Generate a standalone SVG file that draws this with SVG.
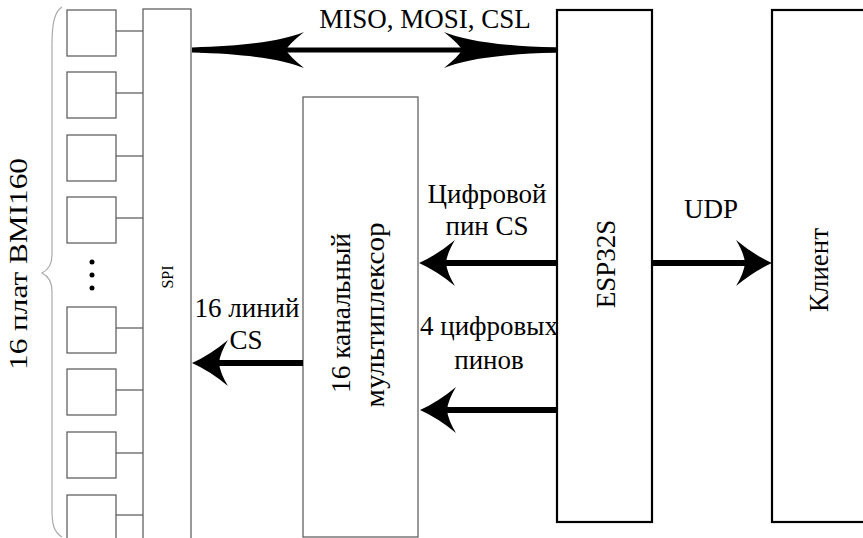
<svg xmlns="http://www.w3.org/2000/svg" width="863" height="538" viewBox="0 0 863 538">
<style>
.thin{fill:#fff;stroke:#555;stroke-width:1.2}
.bold{fill:#fff;stroke:#000;stroke-width:2.2}
.wire{stroke:#555;stroke-width:1.2}
text{font-family:'Liberation Serif','Tinos','Times New Roman','DejaVu Serif','Noto Serif',serif;fill:#000}
.lbl{font-size:27px;text-anchor:middle}
.conn{stroke:#000;fill:none}
.head{fill:#000;stroke:none}
</style>
<defs>
<path id="h" d="M0,0 Q18,-8 36,-23 Q28,-10 27,0 Q28,10 36,23 Q18,8 0,0 Z"/>
<path id="big" d="M0,-2.5 C58,-4 93,-10 112,-18 Q97,-6 94,0 Q97,6 112,18 C93,10 58,4 0,2.5 Z"/>
</defs>
<rect width="863" height="538" fill="#fff"/>

<g id="boards">
<path d="M62,7 C54,12 52,25 52,45 L52,255 C52,265 48,270 42,273 C48,276 52,281 52,291 L52,510 C52,525 54,532 62,537" fill="none" stroke="#aaa" stroke-width="1.2"/>
<text font-size="26" text-anchor="middle" textLength="212" lengthAdjust="spacingAndGlyphs" transform="translate(27,264) rotate(-90)">16 плат BMI160</text>
<rect class="thin" x="67" y="10" width="49" height="46"/>
<rect class="thin" x="67" y="72" width="49" height="46"/>
<rect class="thin" x="67" y="135" width="49" height="46"/>
<rect class="thin" x="67" y="197" width="49" height="46"/>
<rect class="thin" x="67" y="307" width="49" height="46"/>
<rect class="thin" x="67" y="369" width="49" height="46"/>
<rect class="thin" x="67" y="432" width="49" height="46"/>
<rect class="thin" x="67" y="495" width="49" height="48"/>
<line class="wire" x1="116" y1="31" x2="143" y2="31"/>
<line class="wire" x1="116" y1="93" x2="143" y2="93"/>
<line class="wire" x1="116" y1="156" x2="143" y2="156"/>
<line class="wire" x1="116" y1="218" x2="143" y2="218"/>
<line class="wire" x1="116" y1="328" x2="143" y2="328"/>
<line class="wire" x1="116" y1="390" x2="143" y2="390"/>
<line class="wire" x1="116" y1="453" x2="143" y2="453"/>
<line class="wire" x1="116" y1="515" x2="143" y2="515"/>
<circle cx="92" cy="262" r="2.5"/>
<circle cx="92" cy="275" r="2.5"/>
<circle cx="92" cy="288" r="2.5"/>
</g>

<g id="spi">
<rect class="thin" x="143" y="9" width="48" height="540"/>
<text font-size="16" text-anchor="middle" transform="translate(173,277) rotate(-90)">SPI</text>
</g>

<g id="mux">
<rect class="thin" x="303" y="97" width="115" height="440"/>
<text class="lbl" textLength="160" lengthAdjust="spacingAndGlyphs" transform="translate(350,313) rotate(-90)">16 канальный</text>
<text class="lbl" textLength="185" lengthAdjust="spacingAndGlyphs" transform="translate(384,315) rotate(-90)">мультиплексор</text>
</g>

<g id="esp">
<rect class="bold" x="557" y="10" width="95" height="512"/>
<text class="lbl" transform="translate(615,264) rotate(-90)">ESP32S</text>
</g>

<g id="client">
<rect class="bold" x="772" y="10" width="100" height="512"/>
<text class="lbl" transform="translate(828,270) rotate(-90)">Клиент</text>
</g>

<g id="connectors">
<line class="conn" x1="200" y1="50" x2="557" y2="50" stroke-width="5"/>
<use href="#big" class="head" transform="translate(192,50)"/>
<use href="#big" class="head" transform="translate(556,50) scale(-1,1)"/>
<text class="lbl" x="425" y="28">MISO, MOSI, CSL</text>

<line class="conn" x1="215" y1="363" x2="303" y2="363" stroke-width="6"/>
<use href="#h" class="head" transform="translate(192,363)"/>
<text class="lbl" x="247" y="317">16 линий</text>
<text class="lbl" x="246" y="349">CS</text>

<line class="conn" x1="440" y1="263" x2="557" y2="263" stroke-width="6"/>
<use href="#h" class="head" transform="translate(419,263)"/>
<text class="lbl" x="487" y="203">Цифровой</text>
<text class="lbl" x="487" y="235">пин CS</text>

<line class="conn" x1="440" y1="410" x2="557" y2="410" stroke-width="6"/>
<use href="#h" class="head" transform="translate(420,410)"/>
<text class="lbl" x="489" y="335">4 цифровых</text>
<text class="lbl" x="489" y="369">пинов</text>

<line class="conn" x1="652" y1="263" x2="750" y2="263" stroke-width="6"/>
<use href="#h" class="head" transform="translate(772,263) scale(-1,1)"/>
<text class="lbl" x="711" y="218">UDP</text>
</g>
</svg>
